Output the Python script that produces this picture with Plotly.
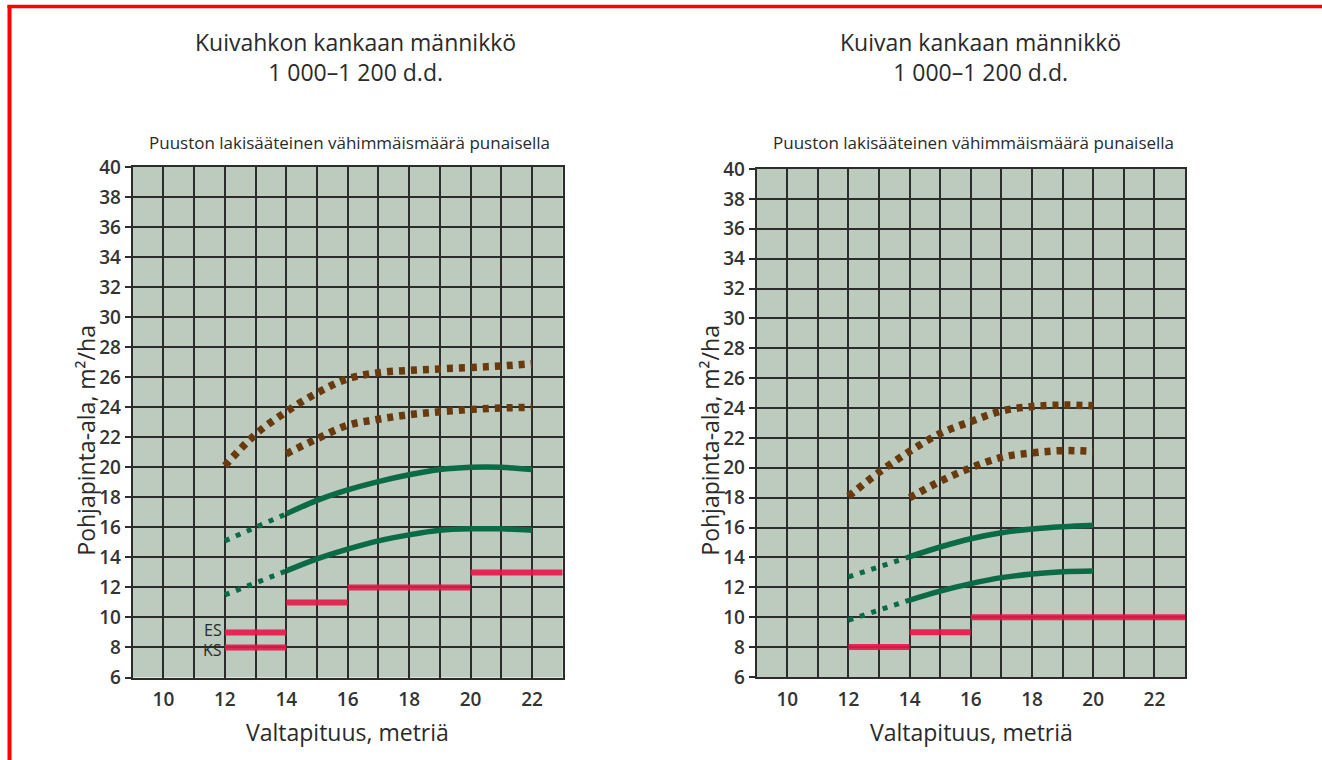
import plotly.graph_objects as go

W, H = 1322, 760

# ---------------- data: left panel (Kuivahkon kankaan männikkö) ----------------
L_brown_up_x = [12, 13, 14, 15, 16, 17, 18, 19, 20, 21, 22]
L_brown_up_y = [20.1, 22.2, 23.7, 24.95, 25.9, 26.3, 26.45, 26.55, 26.65, 26.75, 26.9]
L_brown_lo_x = [14, 15, 16, 17, 18, 19, 20, 21, 22]
L_brown_lo_y = [20.9, 21.9, 22.8, 23.2, 23.5, 23.7, 23.85, 23.95, 24.0]
L_green_up_dot_x = [12, 13, 14]
L_green_up_dot_y = [15.1, 16.0, 16.9]
L_green_up_x = [14, 15, 16, 17, 18, 19, 20, 21, 22]
L_green_up_y = [16.9, 17.8, 18.5, 19.05, 19.5, 19.85, 20.0, 20.0, 19.85]
L_green_lo_dot_x = [12, 13, 14]
L_green_lo_dot_y = [11.5, 12.3, 13.1]
L_green_lo_x = [14, 15, 16, 17, 18, 19, 20, 21, 22]
L_green_lo_y = [13.1, 13.9, 14.55, 15.1, 15.5, 15.8, 15.9, 15.9, 15.8]
L_red_x0 = [12, 12, 14, 16, 20]
L_red_x1 = [14, 14, 16, 20, 23]
L_red_y = [9, 8, 11, 12, 13]
L_red_labels = ["ES", "KS"]
L_red_label_y = [9, 8]

# ---------------- data: right panel (Kuivan kankaan männikkö) ----------------
R_brown_up_x = [12, 13, 14, 15, 16, 17, 18, 19, 20]
R_brown_up_y = [18.1, 19.7, 21.1, 22.3, 23.1, 23.8, 24.1, 24.2, 24.15]
R_brown_lo_x = [14, 15, 16, 17, 18, 19, 20]
R_brown_lo_y = [18.0, 19.1, 20.0, 20.7, 21.0, 21.15, 21.1]
R_green_up_dot_x = [12, 13, 14]
R_green_up_dot_y = [12.7, 13.4, 14.05]
R_green_up_x = [14, 15, 16, 17, 18, 19, 20]
R_green_up_y = [14.05, 14.7, 15.25, 15.65, 15.9, 16.05, 16.15]
R_green_lo_dot_x = [12, 13, 14]
R_green_lo_dot_y = [9.8, 10.5, 11.15]
R_green_lo_x = [14, 15, 16, 17, 18, 19, 20]
R_green_lo_y = [11.15, 11.75, 12.25, 12.65, 12.9, 13.05, 13.1]
R_red_x0 = [12, 14, 16]
R_red_x1 = [14, 16, 23]
R_red_y = [8, 9, 10]

# ---------------- ticks and texts ----------------
x_tickvals = [10, 12, 14, 16, 18, 20, 22]
y_tickvals = [6, 8, 10, 12, 14, 16, 18, 20, 22, 24, 26, 28, 30, 32, 34, 36, 38, 40]
titles = ["Kuivahkon kankaan männikkö<br>1 000–1 200 d.d.",
          "Kuivan kankaan männikkö<br>1 000–1 200 d.d."]
subtitle = "Puuston lakisääteinen vähimmäismäärä punaisella"
x_title = "Valtapituus, metriä"
y_title = "Pohjapinta-ala, m²/ha"

# ---------------- style ----------------
BG = "#bccbbd"
GRID = "#2c2c2c"
BROWN = "#683a0e"
GREEN = "#0c6b47"
RED = "#e8174b"
FONT = "Open Sans"
TXT = "#2a2a2a"


def px_x(p):
    return p / W


def px_y(p):
    return 1 - p / H


fig = go.Figure()


def add_panel(xa, ya, bu, bl, gud, gu, gld, gl, red):
    for (x, y) in (bu, bl):
        fig.add_trace(go.Scatter(x=x, y=y, mode="lines", xaxis=xa, yaxis=ya,
                                 line=dict(color=BROWN, width=7.5, dash="6px,6px",
                                           shape="spline", smoothing=1.0),
                                 hoverinfo="skip", showlegend=False))
    for (x, y) in (gud, gld):
        fig.add_trace(go.Scatter(x=x, y=y, mode="lines", xaxis=xa, yaxis=ya,
                                 line=dict(color=GREEN, width=5, dash="5px,7px"),
                                 hoverinfo="skip", showlegend=False))
    for (x, y) in (gu, gl):
        fig.add_trace(go.Scatter(x=x, y=y, mode="lines", xaxis=xa, yaxis=ya,
                                 line=dict(color=GREEN, width=5.5, shape="spline", smoothing=1.0),
                                 hoverinfo="skip", showlegend=False))
    x0s, x1s, ys = red
    rx, ry = [], []
    for a, b, v in zip(x0s, x1s, ys):
        rx += [a, b, None]
        ry += [v, v, None]
    fig.add_trace(go.Scatter(x=rx, y=ry, mode="lines", xaxis=xa, yaxis=ya,
                             line=dict(color=RED, width=6), opacity=0.9,
                             hoverinfo="skip", showlegend=False))


add_panel("x", "y",
          (L_brown_up_x, L_brown_up_y), (L_brown_lo_x, L_brown_lo_y),
          (L_green_up_dot_x, L_green_up_dot_y), (L_green_up_x, L_green_up_y),
          (L_green_lo_dot_x, L_green_lo_dot_y), (L_green_lo_x, L_green_lo_y),
          (L_red_x0, L_red_x1, L_red_y))
add_panel("x2", "y2",
          (R_brown_up_x, R_brown_up_y), (R_brown_lo_x, R_brown_lo_y),
          (R_green_up_dot_x, R_green_up_dot_y), (R_green_up_x, R_green_up_y),
          (R_green_lo_dot_x, R_green_lo_dot_y), (R_green_lo_x, R_green_lo_y),
          (R_red_x0, R_red_x1, R_red_y))

tickfont = dict(family=FONT, size=19, color="#333333", weight=600)


def xaxis(dom, anchor):
    return dict(domain=dom, anchor=anchor, range=[9, 23], tickvals=x_tickvals,
                showgrid=True, gridcolor=GRID, gridwidth=1.6,
                minor=dict(dtick=1, tick0=9, showgrid=True, gridcolor=GRID, gridwidth=1.6),
                showline=True, mirror=True, linecolor=GRID, linewidth=2,
                ticks="outside", ticklen=4, tickcolor="rgba(0,0,0,0)",
                tickfont=tickfont, zeroline=False, fixedrange=True, automargin=False)


def yaxis(dom, anchor):
    return dict(domain=dom, anchor=anchor, range=[6, 40], tickvals=y_tickvals,
                showgrid=True, gridcolor=GRID, gridwidth=1.6,
                showline=True, mirror=True, linecolor=GRID, linewidth=2,
                ticks="outside", ticklen=6, tickcolor=GRID, tickwidth=1.5,
                tickfont=tickfont, zeroline=False, fixedrange=True, automargin=False)


fig.update_layout(
    width=W, height=H, margin=dict(l=0, r=0, t=0, b=0, pad=0, autoexpand=False),
    paper_bgcolor="white", plot_bgcolor=BG,
    showlegend=False,
    xaxis=xaxis([px_x(132.7), px_x(562.7)], "y"),
    yaxis=yaxis([px_y(677.5), px_y(167)], "x"),
    xaxis2=xaxis([px_x(756.7), px_x(1185)], "y2"),
    yaxis2=yaxis([px_y(677), px_y(169)], "x2"),
)

ann = []
panel_cx = [347.7, 971]
axis_left = [132.7, 756.7]
title_cx = [355, 980]
for i, t in enumerate(titles):
    ann.append(dict(text=t, x=px_x(title_cx[i]), y=px_y(57), xref="paper", yref="paper",
                    showarrow=False, font=dict(family=FONT, size=23, color=TXT),
                    xanchor="center", yanchor="middle", align="center"))
    ann.append(dict(text=subtitle, x=px_x(panel_cx[i] + 2), y=px_y(143), xref="paper", yref="paper",
                    showarrow=False, font=dict(family=FONT, size=17, color=TXT),
                    xanchor="center", yanchor="middle"))
    ann.append(dict(text=x_title, x=px_x(panel_cx[i]), y=px_y(732), xref="paper", yref="paper",
                    showarrow=False, font=dict(family=FONT, size=23, color=TXT),
                    xanchor="center", yanchor="middle"))
    ann.append(dict(text=y_title, x=px_x(axis_left[i] - 47), y=px_y(440), xref="paper", yref="paper",
                    showarrow=False, font=dict(family=FONT, size=23, color=TXT),
                    textangle=-90, xanchor="center", yanchor="middle"))

for lab, yv, ys in zip(L_red_labels, L_red_label_y, [2, -3]):
    ann.append(dict(text=lab, x=12, y=yv, xref="x", yref="y", showarrow=False,
                    font=dict(family=FONT, size=16, color=TXT),
                    xanchor="right", yanchor="middle", xshift=-1, yshift=ys))
fig.update_layout(annotations=ann)

# red frame of the screenshot
fig.add_shape(type="line", xref="paper", yref="paper",
              x0=px_x(9.5), x1=px_x(9.5), y0=px_y(5), y1=px_y(H),
              line=dict(color="#ff0000", width=4))
fig.add_shape(type="line", xref="paper", yref="paper",
              x0=px_x(7.5), x1=px_x(W), y0=px_y(6.5), y1=px_y(6.5),
              line=dict(color="#ff0000", width=3.5))

fig.write_html("out.html", config={"displayModeBar": False},
               post_script="document.body.style.margin='0';document.body.style.overflow='hidden';")
